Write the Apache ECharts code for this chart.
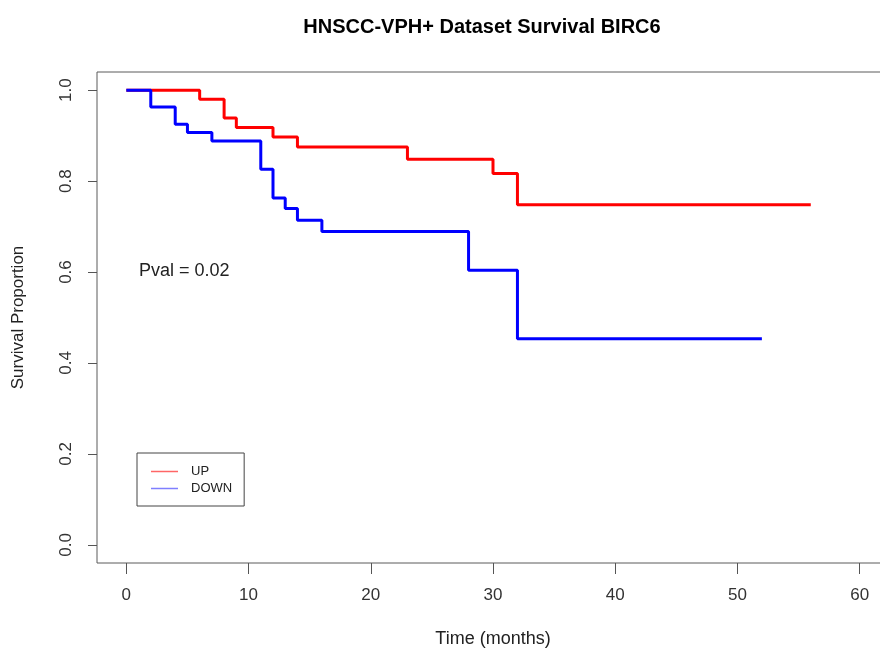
<!DOCTYPE html>
<html>
<head>
<meta charset="utf-8">
<script src="https://cdn.jsdelivr.net/npm/echarts@6/dist/echarts.min.js"></script>
<style>
  html,body{margin:0;padding:0;background:#fff;}
  #chart{width:880px;height:649px;}
</style>
</head>
<body>
<div id="chart"></div>
<script>
// Kaplan-Meier steps
var upTimes = [0, 6, 8, 9, 12, 14, 23, 30, 32, 56];
var upSurv = [1, 0.98, 0.939, 0.918, 0.897, 0.875, 0.848, 0.817, 0.748, 0.748];
var downTimes = [0, 2, 4, 5, 7, 11, 12, 13, 14, 16, 28, 32, 52];
var downSurv = [1, 0.963, 0.925, 0.907, 0.888, 0.826, 0.763, 0.74, 0.714, 0.689, 0.604, 0.453, 0.453];
var xTicks = [0, 10, 20, 30, 40, 50, 60];
var yTicks = [0, 0.2, 0.4, 0.6, 0.8, 1.0];
var pvalText = 'Pval = 0.02';

function pairs(xs, ys){
  return xs.map(function(x, i){ return [x, ys[i]]; });
}

var font = 'Liberation Sans, Arial, Helvetica, sans-serif';
var lineIcon = 'path://M0,0 L27,0 L27,1.5 L0,1.5 Z';
var chart = echarts.init(document.getElementById('chart'));

var option = {
  backgroundColor: '#fff',
  animation: false,
  title: {
    text: 'HNSCC-VPH+ Dataset Survival BIRC6',
    left: 477,
    textAlign: 'center',
    top: 12,
    textStyle: {fontFamily: font, fontSize: 20, fontWeight: 'bold', color: '#000'}
  },
  grid: {
    left: 97, top: 72, width: 792, bottom: 86,
    show: true, borderColor: '#5a5a5a', borderWidth: 1,
    containLabel: false,
    outerBoundsMode: 'none'
  },
  xAxis: {
    type: 'value',
    min: -2.4, max: 62.4,
    name: 'Time (months)',
    nameLocation: 'middle',
    nameGap: 67,
    nameTextStyle: {fontFamily: font, fontSize: 18, color: '#222'},
    axisLine: {show: false, onZero: false},
    splitLine: {show: false},
    axisTick: {show: true, length: 11, customValues: xTicks, lineStyle: {color: '#555'}},
    axisLabel: {customValues: xTicks, margin: 24, fontFamily: font, fontSize: 17, color: '#333'}
  },
  yAxis: {
    type: 'value',
    min: -0.04, max: 1.04,
    name: 'Survival Proportion',
    nameLocation: 'middle',
    nameGap: 70,
    nameTextStyle: {fontFamily: font, fontSize: 17, color: '#222'},
    axisLine: {show: false, onZero: false},
    splitLine: {show: false},
    axisTick: {show: true, length: 9, customValues: yTicks, lineStyle: {color: '#555'}},
    axisLabel: {
      customValues: yTicks, margin: 22, rotate: 90,
      fontFamily: font, fontSize: 17, color: '#333',
      formatter: function(v){ return v.toFixed(1); }
    }
  },
  legend: {
    orient: 'vertical',
    left: 137, top: 453,
    padding: [12, 12, 11, 14],
    itemGap: 4,
    itemWidth: 27, itemHeight: 13,
    borderColor: '#444', borderWidth: 1, borderRadius: 0,
    textStyle: {fontFamily: font, fontSize: 13, color: '#222', padding: [0, 0, 0, 8]},
    data: [
      {name: 'UP', icon: lineIcon, itemStyle: {color: 'rgba(255,0,0,0.6)'}},
      {name: 'DOWN', icon: lineIcon, itemStyle: {color: 'rgba(0,0,255,0.5)'}}
    ]
  },
  graphic: [{
    type: 'text',
    left: 139, top: 262,
    style: {text: pvalText, fontFamily: font, fontSize: 18, fill: '#222'}
  }],
  series: [
    {
      name: 'UP', type: 'line', step: 'end', symbol: 'none',
      lineStyle: {color: '#ff0000', width: 3},
      itemStyle: {color: '#ff0000'},
      data: pairs(upTimes, upSurv)
    },
    {
      name: 'DOWN', type: 'line', step: 'end', symbol: 'none',
      lineStyle: {color: '#0000ff', width: 3},
      itemStyle: {color: '#0000ff'},
      data: pairs(downTimes, downSurv)
    }
  ]
};
chart.setOption(option);
</script>
</body>
</html>
